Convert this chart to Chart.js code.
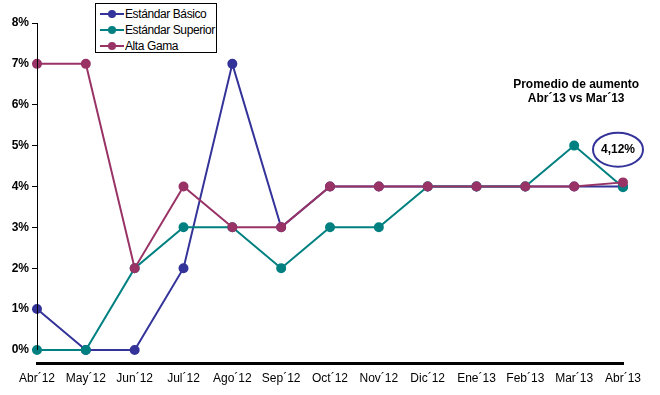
<!DOCTYPE html>
<html><head><meta charset="utf-8">
<script src="https://cdn.jsdelivr.net/npm/chart.js@4"></script>
<style>
html,body{margin:0;padding:0;background:#fff;}
#wrap{position:relative;width:660px;height:395px;}
#legend{position:absolute;left:95px;top:3px;width:122px;height:50px;border:1px solid #000;background:#fff;font:12px "Liberation Sans",Arial,sans-serif;box-sizing:border-box;padding-top:2px;white-space:nowrap;overflow:hidden;}
.li{display:flex;align-items:center;height:16px;}
.li span.t{letter-spacing:-0.4px;}
.sw{position:relative;width:24px;height:12px;margin-left:4px;margin-right:1px;flex:none;}
.sw i{position:absolute;left:0;right:0;top:5px;height:2px;}
.sw b{position:absolute;left:8px;top:2px;width:8px;height:8px;border-radius:50%;}
</style></head>
<body><div id="wrap"><canvas id="c" width="660" height="395"></canvas><div id="legend"></div></div>
<script>
const categories = ["Abr´12","May´12","Jun´12","Jul´12","Ago´12","Sep´12","Oct´12","Nov´12","Dic´12","Ene´13","Feb´13","Mar´13","Abr´13"];
const seriesNames = ["Estándar Básico","Estándar Superior","Alta Gama"];
const basico   = [1,0,0,2,7,3,4,4,4,4,4,4,4.0];
const superior = [0,0,2,3,3,2,3,3,4,4,4,5,3.98];
const altaGama = [7,7,2,4,3,3,4,4,4,4,4,4,4.1];
const colors = ["#333399","#008080","#993366"];
const yTicks = [0,1,2,3,4,5,6,7,8];
const noteTitle = ["Promedio de aumento","Abr´13 vs Mar´13"];
const noteValue = "4,12%";

const lg = document.getElementById('legend');
seriesNames.forEach((n,i)=>{
  const d=document.createElement('div');d.className='li';
  d.innerHTML='<span class="sw"><i style="background:'+colors[i]+'"></i><b style="background:'+colors[i]+'"></b></span><span class="t">'+n+'</span>';
  lg.appendChild(d);
});

const notePlugin = {
  id:'note',
  afterDraw(chart){
    const {ctx,scales:{x,y}} = chart;
    ctx.save();
    ctx.strokeStyle='#000';ctx.lineWidth=1;
    ctx.beginPath();
    ctx.moveTo(Math.round(x.left)+0.5,y.getPixelForValue(8));
    ctx.lineTo(Math.round(x.left)+0.5,y.getPixelForValue(0));
    ctx.stroke();
    ctx.fillStyle='#000';
    ctx.font='bold 12px "Liberation Sans Narrow","Arial Narrow","Liberation Sans",Arial';
    ctx.textAlign='center';ctx.textBaseline='middle';
    const cx = x.getPixelForValue(11)+2;
    ctx.fillText(noteTitle[0],cx,y.getPixelForValue(6.5));
    ctx.fillText(noteTitle[1],cx,y.getPixelForValue(6.15));
    const ex = x.getPixelForValue(12)-5, ey = y.getPixelForValue(4.9);
    ctx.strokeStyle='#333399';ctx.lineWidth=2;
    ctx.beginPath();ctx.ellipse(ex,ey,25,17,0,0,Math.PI*2);ctx.stroke();
    ctx.font='bold 12px "Liberation Sans",Arial';
    ctx.fillText(noteValue,ex,ey);
    ctx.restore();
  }
};

new Chart(document.getElementById('c'),{
  type:'line',
  data:{labels:categories,datasets:[
    {label:seriesNames[0],data:basico,borderColor:colors[0],backgroundColor:colors[0],order:3},
    {label:seriesNames[1],data:superior,borderColor:colors[1],backgroundColor:colors[1],order:2},
    {label:seriesNames[2],data:altaGama,borderColor:colors[2],backgroundColor:colors[2],order:1}
  ].map(d=>Object.assign(d,{borderWidth:2,pointRadius:4,pointHoverRadius:4,tension:0,fill:false}))},
  options:{
    responsive:false,animation:false,
    layout:{padding:{left:0,right:37,top:23,bottom:0}},
    plugins:{legend:{display:false},tooltip:{enabled:false}},
    scales:{
      x:{
        offset:false,
        grid:{display:false,drawTicks:false},
        border:{display:true,color:'#000',width:3,dash:[1,1]},
        ticks:{color:'#000',font:{family:'"Liberation Sans",Arial',size:12},padding:8,maxRotation:0,autoSkip:false},
        afterFit(s){s.height=32;}
      },
      y:{
        min:-0.32,max:8,
        afterBuildTicks(s){s.ticks=yTicks.map(v=>({value:v}));},
        grid:{drawOnChartArea:false,drawTicks:true,tickLength:5,color:'#000'},
        border:{display:false},
        ticks:{color:'#000',font:{family:'"Liberation Sans",Arial',size:12,weight:'bold'},padding:3,callback:v=>v+'%'},
        afterFit(s){s.width=37;}
      }
    }
  },
  plugins:[notePlugin]
});
</script></body></html>
